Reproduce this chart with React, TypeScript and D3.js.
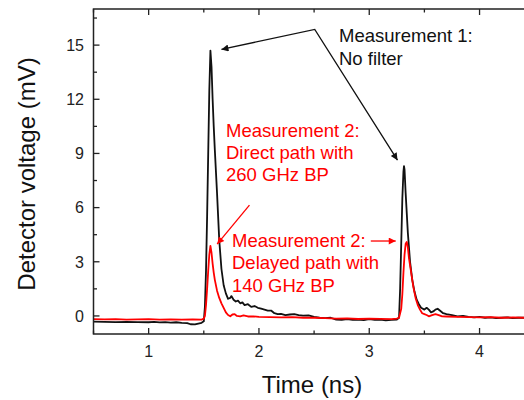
import React from 'react'
import * as d3 from 'd3'

// time axis (ns) and detector voltage (mV)
const blackTime = [0.5, 0.6, 0.7, 0.8, 0.9, 1.0, 1.05, 1.1, 1.15, 1.2, 1.25, 1.3, 1.35, 1.38, 1.42, 1.45, 1.48, 1.5,
    1.51, 1.52, 1.53, 1.54, 1.55, 1.56, 1.57, 1.58, 1.59, 1.6, 1.62, 1.64, 1.66, 1.68, 1.7, 1.72, 1.74, 1.75, 1.77,
    1.79, 1.81, 1.83, 1.85, 1.87, 1.9, 1.93, 1.96, 1.99, 2.02, 2.05, 2.08, 2.11, 2.14, 2.17, 2.2, 2.24, 2.28, 2.32,
    2.36, 2.4, 2.45, 2.5, 2.55, 2.6, 2.65, 2.7, 2.75, 2.8, 2.85, 2.9, 2.95, 3.0, 3.05, 3.1, 3.15, 3.2, 3.25, 3.27,
    3.28, 3.29, 3.3, 3.31, 3.315, 3.32, 3.33, 3.35, 3.37, 3.39, 3.41, 3.43, 3.45, 3.47, 3.5, 3.52, 3.54, 3.56, 3.58,
    3.6, 3.62, 3.64, 3.67, 3.7, 3.75, 3.8, 3.85, 3.9, 3.95, 4.0, 4.05, 4.1, 4.15, 4.2, 4.25, 4.3, 4.35, 4.4, 4.45, 4.5]
const blackVoltage = [-0.32, -0.33, -0.34, -0.33, -0.34, -0.35, -0.33, -0.36, -0.34, -0.37, -0.35, -0.38, -0.4, -0.46,
    -0.47, -0.42, -0.38, -0.3, 0.5, 2.5, 5.5, 9.0, 12.5, 14.7, 13.8, 12.0, 10.5, 9.2, 6.8, 4.2, 2.6, 1.7, 1.25, 0.95,
    1.0, 1.1, 0.9, 0.8, 0.85, 0.7, 0.75, 0.6, 0.65, 0.5, 0.55, 0.45, 0.4, 0.35, 0.3, 0.3, 0.15, 0.1, 0.12, 0.05,
    0.08, 0.1, 0.05, 0.02, 0.03, -0.05, -0.1, -0.12, -0.1, -0.2, -0.22, -0.18, -0.22, -0.2, -0.23, -0.18, -0.22, -0.2,
    -0.24, -0.22, -0.2, -0.1, 1.5, 4.0, 6.5, 8.0, 8.3, 8.1, 6.8, 4.6, 3.0, 2.0, 1.35, 0.9, 0.65, 0.45, 0.35, 0.45,
    0.35, 0.2, 0.25, 0.35, 0.4, 0.3, 0.15, 0.1, 0.05, -0.02, 0.0, -0.05, -0.08, -0.05, -0.1, -0.08, -0.12, -0.1,
    -0.08, -0.12, -0.1, -0.1, -0.12, -0.1]

const redTime = [0.5, 0.6, 0.7, 0.8, 0.9, 1.0, 1.1, 1.2, 1.3, 1.4, 1.48, 1.5, 1.51, 1.52, 1.53, 1.54, 1.55, 1.56,
    1.57, 1.58, 1.59, 1.6, 1.62, 1.64, 1.66, 1.68, 1.7, 1.72, 1.74, 1.76, 1.78, 1.8, 1.83, 1.86, 1.9, 1.95, 2.0,
    2.1, 2.2, 2.3, 2.4, 2.5, 2.6, 2.7, 2.8, 2.9, 3.0, 3.1, 3.2, 3.25, 3.27, 3.29, 3.3, 3.31, 3.32, 3.33, 3.34, 3.35,
    3.36, 3.38, 3.4, 3.42, 3.44, 3.46, 3.48, 3.5, 3.52, 3.54, 3.57, 3.6, 3.63, 3.66, 3.7, 3.8, 3.9, 4.0, 4.1, 4.2,
    4.3, 4.4, 4.5]
const redVoltage = [-0.18, -0.19, -0.18, -0.2, -0.19, -0.18, -0.2, -0.19, -0.2, -0.19, -0.2, -0.15, 0.0, 0.6, 1.5,
    2.5, 3.4, 3.88, 3.5, 2.9, 2.4, 2.0, 1.4, 1.0, 0.7, 0.45, 0.2, 0.05, -0.02, 0.08, 0.1, 0.0, -0.02, 0.03, -0.03,
    -0.02, -0.05, -0.06, -0.08, -0.07, -0.1, -0.1, -0.12, -0.15, -0.14, -0.17, -0.15, -0.16, -0.18, -0.15, -0.1, 0.4,
    1.2, 2.4, 3.4, 4.0, 4.1, 3.8, 3.2, 2.4, 1.6, 1.0, 0.6, 0.35, 0.15, 0.1, 0.05, -0.02, 0.05, 0.1, 0.05, -0.02,
    -0.03, -0.05, -0.06, -0.08, -0.07, -0.1, -0.08, -0.1, -0.1]

const xMajorTicks = [1, 2, 3, 4]
const xMinorTicks = [0.5, 1.5, 2.5, 3.5, 4.5]
const yMajorTicks = [0, 3, 6, 9, 12, 15]
const yMinorTicks = [1.5, 4.5, 7.5, 10.5, 13.5, 16.5]

const fontFamily = '"Liberation Sans", Arial, sans-serif'
const red = '#ff0000'

function App() {
    const x = d3.scaleLinear().domain([0.5, 4.5]).range([93.5, 534.7])
    const y = d3.scaleLinear().domain([-1, 17]).range([334, 9])

    const line = d3.line<[number, number]>().x(d => x(d[0])).y(d => y(d[1]))
    const blackPath = line(blackTime.map((t, i) => [t, blackVoltage[i]]))
    const redPath = line(redTime.map((t, i) => [t, redVoltage[i]]))

    const left = x(0.5), right = x(4.5), top = y(17), bottom = y(-1)

    return (
        <svg width={524} height={400} style={{ position: 'absolute', left: 0, top: 0, background: 'white' }}
            fontFamily={fontFamily}>
            <defs>
                <marker id="headBlack" viewBox="0 0 10 10" refX="10" refY="5" markerWidth="9" markerHeight="7"
                    markerUnits="userSpaceOnUse" orient="auto-start-reverse">
                    <path d="M0,0 L10,5 L0,10 z" fill="#111" />
                </marker>
                <marker id="headRed" viewBox="0 0 10 10" refX="10" refY="5" markerWidth="9" markerHeight="7"
                    markerUnits="userSpaceOnUse" orient="auto">
                    <path d="M0,0 L10,5 L0,10 z" fill={red} />
                </marker>
            </defs>

            <path d={blackPath} fill="none" stroke="#111" strokeWidth={1.8} strokeLinejoin="round" />
            <path d={redPath} fill="none" stroke={red} strokeWidth={1.8} strokeLinejoin="round" />

            {/* frame */}
            <rect x={left} y={top} width={right - left} height={bottom - top} fill="none" stroke="#222" strokeWidth={1.5} />

            {xMajorTicks.map(t => (
                <g key={'xm' + t}>
                    <line x1={x(t)} x2={x(t)} y1={bottom} y2={bottom - 6} stroke="#222" strokeWidth={1.3} />
                    <line x1={x(t)} x2={x(t)} y1={top} y2={top + 6} stroke="#222" strokeWidth={1.3} />
                    <text x={x(t)} y={356.5} textAnchor="middle" fontSize={16} fill="#222">{t}</text>
                </g>
            ))}
            {xMinorTicks.map(t => (
                <g key={'xn' + t}>
                    <line x1={x(t)} x2={x(t)} y1={bottom} y2={bottom - 3.5} stroke="#222" strokeWidth={1.3} />
                    <line x1={x(t)} x2={x(t)} y1={top} y2={top + 3.5} stroke="#222" strokeWidth={1.3} />
                </g>
            ))}
            {yMajorTicks.map(t => (
                <g key={'ym' + t}>
                    <line x1={left} x2={left + 6} y1={y(t)} y2={y(t)} stroke="#222" strokeWidth={1.3} />
                    <text x={84} y={y(t)} dy="0.36em" textAnchor="end" fontSize={16} fill="#222">{t}</text>
                </g>
            ))}
            {yMinorTicks.map(t => (
                <line key={'yn' + t} x1={left} x2={left + 3.5} y1={y(t)} y2={y(t)} stroke="#222" strokeWidth={1.3} />
            ))}

            <text x={312} y={393} textAnchor="middle" fontSize={24} fill="#111">Time (ns)</text>
            <text transform="translate(35,174) rotate(-90)" textAnchor="middle" fontSize={24} fill="#111">
                Detector voltage (mV)
            </text>

            {/* annotations */}
            <polyline points={`${x(1.66)},${y(14.76)} ${x(2.506)},${y(15.87)} ${x(3.256)},${y(8.63)}`}
                fill="none" stroke="#111" strokeWidth={1.3} markerStart="url(#headBlack)" markerEnd="url(#headBlack)" />
            <text x={339} y={41.5} fontSize={18.5} fill="#111">
                <tspan x={339}>Measurement 1:</tspan>
                <tspan x={339} dy={23}>No filter</tspan>
            </text>

            <line x1={x(1.914)} y1={y(6.14)} x2={x(1.621)} y2={y(3.98)} stroke={red} strokeWidth={1.3}
                markerEnd="url(#headRed)" />
            <text y={136.7} fontSize={18.5} fill={red}>
                <tspan x={226}>Measurement 2:</tspan>
                <tspan x={226} dy={22.3}>Direct path with</tspan>
                <tspan x={226} dy={22.3}>260 GHz BP</tspan>
            </text>

            <line x1={x(3.014)} y1={y(4.15)} x2={x(3.24)} y2={y(4.15)} stroke={red} strokeWidth={1.3}
                markerEnd="url(#headRed)" />
            <text y={247} fontSize={18.5} fill={red}>
                <tspan x={232}>Measurement 2:</tspan>
                <tspan x={232} dy={22.3}>Delayed path with</tspan>
                <tspan x={232} dy={22.3}>140 GHz BP</tspan>
            </text>
        </svg>
    )
}

export default App
